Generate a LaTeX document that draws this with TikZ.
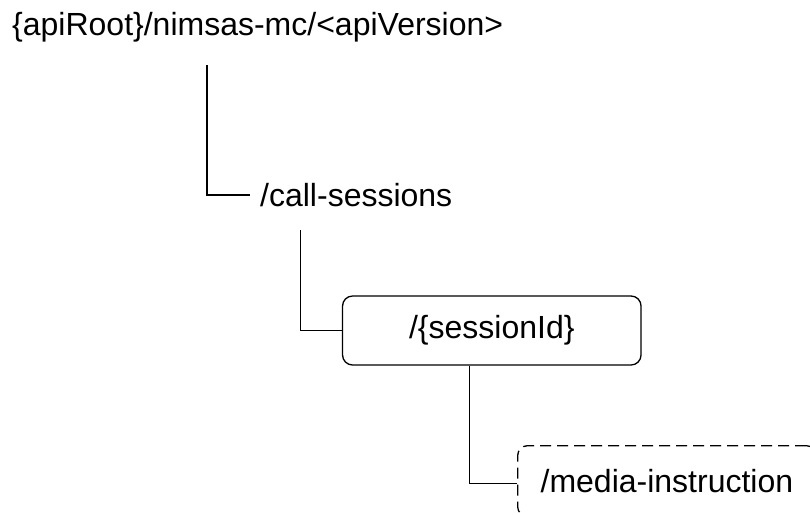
\documentclass[tikz,border=0pt]{standalone}
\usepackage{fontspec}
\setmainfont{Liberation Sans}
\begin{document}
\begin{tikzpicture}[x=1pt,y=-1pt,
  every node/.style={font=\fontsize{32}{38}\selectfont},
  conn/.style={line width=1.3pt},
  resbox/.style={draw, line width=1.3pt, rounded corners=10pt, inner sep=0pt},
  optbox/.style={resbox, dash pattern=on 11pt off 6pt}]
\useasboundingbox (0,0) rectangle (810,514);
\clip (0,0) rectangle (810,514);
\node[anchor=base west, inner sep=0pt] (root) at (12,35) {\{apiRoot\}/nimsas-mc/<apiVersion>};
\node[anchor=west, inner xsep=10pt, inner ysep=0pt] (cs) at (250,195) {/call-sessions};
\node[resbox, minimum width=298.5pt, minimum height=69pt] (sid) at (491.8,330.5) {/\{sessionId\}};
\node[optbox, anchor=north west, minimum width=298.5pt, minimum height=71pt] (mi) at (517,445) {/media-instruction};
\coordinate (r1) at (207,65);
\coordinate (c1) at (300.7,230);
\draw[conn] (r1) |- (cs.west);
\draw[conn] (c1) |- (sid.west);
\draw[conn] ([xshift=-22.5pt]sid.south) |- ([yshift=-2pt]mi.west);
\end{tikzpicture}
\end{document}
